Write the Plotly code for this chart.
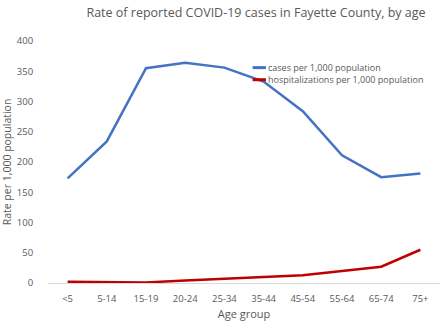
import plotly.graph_objects as go

age_groups = ["<5", "5-14", "15-19", "20-24", "25-34", "35-44", "45-54", "55-64", "65-74", "75+"]
cases = [173, 234, 355, 364, 356, 333, 284, 211, 175, 181]
hosp = [2, 1, 1, 4, 7, 9, 13, 20, 27, 55]
series_names = ["cases per 1,000 population", "hospitalizations per 1,000 population"]
series_colors = ["#4472C4", "#C00000"]

grey = "#595959"
font = "Open Sans"

fig = go.Figure()
for vals, name, col in zip([cases, hosp], series_names, series_colors):
    fig.add_trace(go.Scatter(x=age_groups, y=vals, mode="lines", name=name,
                             line=dict(color=col, width=2.5), showlegend=False))

# compact legend (short line swatches like the original)
legend_y = [0.89, 0.84]
for ly, name, col in zip(legend_y, series_names, series_colors):
    fig.add_shape(type="line", xref="paper", yref="paper", x0=0.522, x1=0.556, y0=ly, y1=ly,
                  line=dict(color=col, width=3))
    fig.add_annotation(xref="paper", yref="paper", x=0.556, y=ly, xanchor="left", yanchor="middle",
                       text=name, showarrow=False, font=dict(size=9, color=grey), xshift=0)

fig.update_layout(
    width=443, height=321,
    margin=dict(l=45, r=3, t=41, b=37),
    paper_bgcolor="white", plot_bgcolor="white",
    font=dict(family=font, color=grey, size=10),
    title=dict(text="Rate of reported COVID-19 cases in Fayette County, by age",
               x=0.578, xanchor="center", y=0.96, yanchor="middle",
               font=dict(size=12.5, color=grey, family=font)),
    showlegend=False,
)
fig.update_xaxes(range=[-0.5, 9.5], showgrid=False, showline=True, linecolor="#D9D9D9", linewidth=1,
                 ticks="outside", ticklen=7, tickcolor="rgba(0,0,0,0)", tickfont=dict(size=9.5, color=grey),
                 title=dict(text="Age group", font=dict(size=11, color=grey), standoff=5), zeroline=False)
fig.update_yaxes(range=[0, 400], dtick=50, showgrid=False, showline=False, zeroline=False,
                 ticks="outside", ticklen=12, tickcolor="rgba(0,0,0,0)", tickfont=dict(size=9.5, color=grey),
                 title=dict(text="Rate per 1,000 population", font=dict(size=10.5, color=grey), standoff=6))

fig.write_html("out.html")
